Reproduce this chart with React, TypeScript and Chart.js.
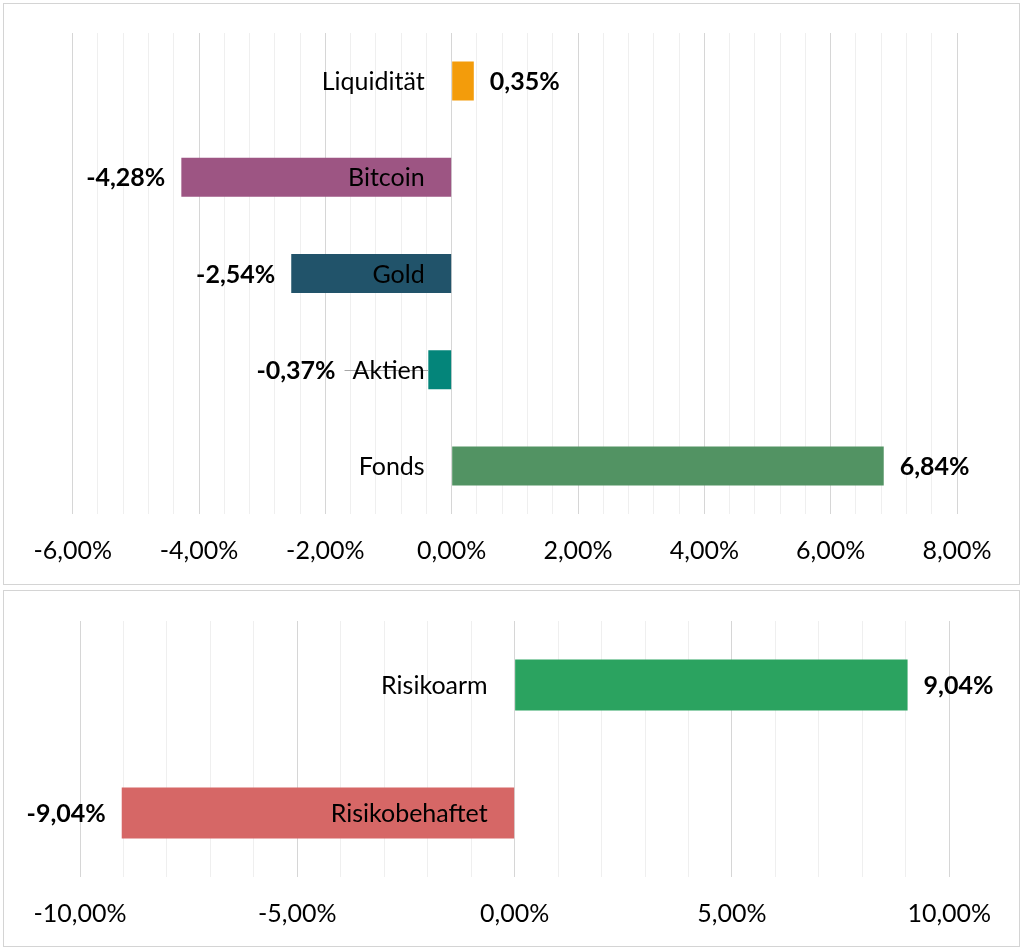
import React, { useEffect, useRef } from 'react';
import { Chart, registerables } from 'chart.js';

Chart.register(...registerables);

// ---------- Data ----------
const TOP_CATEGORIES = ['Liquidität', 'Bitcoin', 'Gold', 'Aktien', 'Fonds'];
const TOP_VALUES = [0.35, -4.28, -2.54, -0.37, 6.84];
const TOP_COLORS = ['#F39C0B', '#9D5583', '#21536A', '#04857A', '#529363'];
const TOP_MIN = -6;
const TOP_MAX = 8;
const TOP_MINOR_STEP = 0.4;
const TOP_MAJOR_STEP = 2;

const BOTTOM_CATEGORIES = ['Risikoarm', 'Risikobehaftet'];
const BOTTOM_VALUES = [9.04, -9.04];
const BOTTOM_COLORS = ['#2BA360', '#D66766'];
const BOTTOM_MIN = -10;
const BOTTOM_MAX = 10;
const BOTTOM_MINOR_STEP = 1;
const BOTTOM_MAJOR_STEP = 5;

// ---------- Styling ----------
const FONT_FAMILY = 'Lato, "Open Sans", sans-serif';
const FONT_SIZE = 25;

const fmt = (v: number) => {
  const r = Math.round(v * 100) / 100;
  return (Object.is(r, -0) ? 0 : r).toFixed(2).replace('.', ',') + '%';
};

const isMultiple = (v: number, step: number) => {
  const q = v / step;
  return Math.abs(q - Math.round(q)) < 1e-6;
};

function makeLabelPlugin(categories: string[], values: number[]) {
  return {
    id: 'barLabels',
    afterDatasetsDraw(chart: any) {
      const ctx = chart.ctx as CanvasRenderingContext2D;
      const meta = chart.getDatasetMeta(0);
      const zero = chart.scales.x.getPixelForValue(0);
      ctx.save();
      ctx.textBaseline = 'middle';
      meta.data.forEach((bar: any, i: number) => {
        const y = bar.y + 1;
        const v = values[i];
        ctx.font = `normal ${FONT_SIZE}px ${FONT_FAMILY}`;
        const catRight = zero - 27;
        const catW = ctx.measureText(categories[i]).width;
        const catLeft = catRight - catW;

        let valueX: number;
        let align: CanvasTextAlign;
        let leader: [number, number] | null = null;
        if (v >= 0) {
          valueX = bar.x + 16;
          align = 'left';
        } else if (bar.x < catLeft) {
          valueX = bar.x - 16;
          align = 'right';
        } else {
          valueX = catLeft - 17;
          align = 'right';
          leader = [valueX + 9, bar.x];
        }

        if (leader) {
          ctx.strokeStyle = '#A6A6A6';
          ctx.lineWidth = 1;
          ctx.beginPath();
          ctx.moveTo(leader[0], Math.round(bar.y) + 0.5);
          ctx.lineTo(leader[1], Math.round(bar.y) + 0.5);
          ctx.stroke();
        }

        ctx.fillStyle = '#000000';
        ctx.textAlign = 'right';
        ctx.fillText(categories[i], catRight, y);

        ctx.font = `bold ${FONT_SIZE}px ${FONT_FAMILY}`;
        ctx.textAlign = align;
        ctx.fillText(fmt(v), valueX, y);
      });
      ctx.restore();
    },
  };
}

interface PanelChartProps {
  categories: string[];
  values: number[];
  colors: string[];
  min: number;
  max: number;
  minorStep: number;
  majorStep: number;
  barPercentage: number;
  padding: { left: number; right: number; top: number };
  axisHeight: number;
}

function PanelChart(props: PanelChartProps) {
  const ref = useRef<HTMLCanvasElement | null>(null);
  useEffect(() => {
    if (!ref.current) return;
    const { categories, values, colors, min, max, minorStep, majorStep } = props;
    const chart = new Chart(ref.current, {
      type: 'bar',
      data: {
        labels: categories,
        datasets: [
          {
            data: values,
            backgroundColor: colors,
            borderWidth: 0,
            barPercentage: props.barPercentage,
            categoryPercentage: 1,
          },
        ],
      },
      options: {
        indexAxis: 'y',
        animation: false,
        responsive: true,
        maintainAspectRatio: false,
        layout: {
          padding: { left: props.padding.left, right: props.padding.right, top: props.padding.top, bottom: 0 },
        },
        plugins: {
          legend: { display: false },
          tooltip: { enabled: false },
        },
        scales: {
          x: {
            type: 'linear',
            min,
            max,
            border: { display: false },
            afterBuildTicks: (scale: any) => {
              const n = Math.round((max - min) / minorStep);
              const ticks = [];
              for (let i = 0; i <= n; i++) {
                ticks.push({ value: Math.round((min + i * minorStep) * 1000) / 1000 });
              }
              scale.ticks = ticks;
            },
            afterFit: (scale: any) => {
              scale.height = props.axisHeight;
            },
            grid: {
              drawTicks: false,
              lineWidth: 1,
              color: (c: any) =>
                c.tick && isMultiple(c.tick.value, majorStep) ? '#D6D6D6' : '#EFEFEF',
            },
            ticks: {
              autoSkip: false,
              maxRotation: 0,
              padding: 22,
              color: '#000000',
              font: { family: FONT_FAMILY, size: FONT_SIZE },
              callback: (value: any) => (isMultiple(Number(value), majorStep) ? fmt(Number(value)) : ''),
            },
          },
          y: {
            type: 'category',
            display: false,
            offset: true,
          },
        },
      },
      plugins: [makeLabelPlugin(categories, values)],
    } as any);
    return () => chart.destroy();
  }, []);
  return <canvas ref={ref} style={{ display: 'block' }} />;
}

export default function App() {
  return (
    <div
      style={{
        position: 'absolute',
        left: 0,
        top: 0,
        width: 1024,
        height: 948,
        background: '#ffffff',
        fontFamily: FONT_FAMILY,
      }}
    >
      <div
        style={{
          position: 'absolute',
          left: 3,
          top: 3,
          width: 1015,
          height: 580,
          border: '1px solid #D4D4D4',
          background: '#ffffff',
        }}
      >
        <PanelChart
          categories={TOP_CATEGORIES}
          values={TOP_VALUES}
          colors={TOP_COLORS}
          min={TOP_MIN}
          max={TOP_MAX}
          minorStep={TOP_MINOR_STEP}
          majorStep={TOP_MAJOR_STEP}
          barPercentage={0.405}
          padding={{ left: 68.7, right: 62, top: 29 }}
          axisHeight={70}
        />
      </div>
      <div
        style={{
          position: 'absolute',
          left: 3,
          top: 590,
          width: 1015,
          height: 355,
          border: '1px solid #D4D4D4',
          background: '#ffffff',
        }}
      >
        <PanelChart
          categories={BOTTOM_CATEGORIES}
          values={BOTTOM_VALUES}
          colors={BOTTOM_COLORS}
          min={BOTTOM_MIN}
          max={BOTTOM_MAX}
          minorStep={BOTTOM_MINOR_STEP}
          majorStep={BOTTOM_MAJOR_STEP}
          barPercentage={0.4}
          padding={{ left: 76, right: 69.7, top: 30 }}
          axisHeight={69}
        />
      </div>
    </div>
  );
}
